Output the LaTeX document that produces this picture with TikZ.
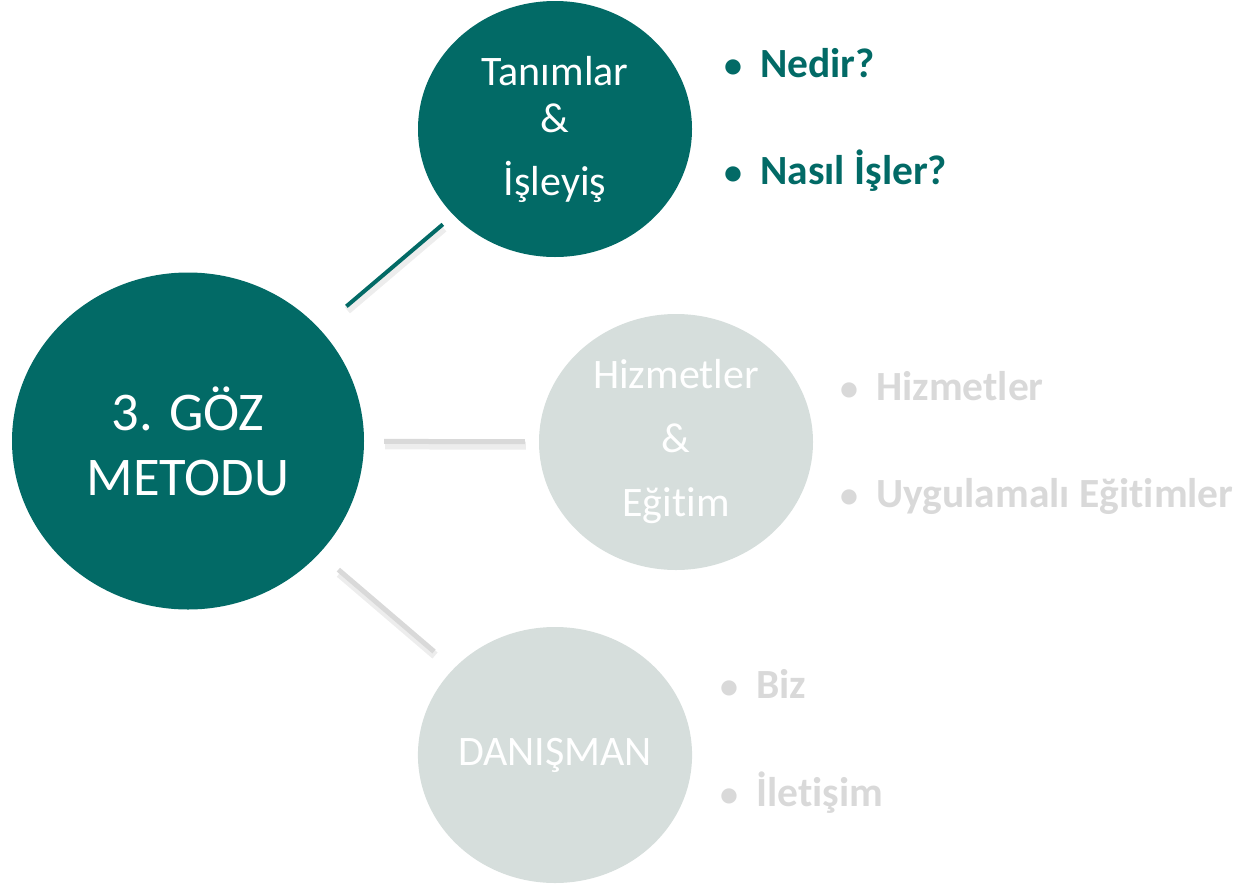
\documentclass[tikz,border=0pt]{standalone}
\usepackage{fontspec}
\setmainfont{Carlito}[Ligatures=NoCommon]
\usetikzlibrary{shapes.geometric}
\definecolor{deepteal}{RGB}{2,106,102}
\definecolor{mist}{RGB}{214,222,220}
\definecolor{faint}{RGB}{217,217,217}
\tikzset{basic/.style={ellipse,inner sep=0pt,align=center,text=white,minimum width=274pt,minimum height=256pt}}
\tikzset{hub/.style={basic,fill=deepteal,minimum width=352pt,minimum height=337pt,font=\fontsize{54.5}{65}\selectfont}}
\tikzset{active/.style={basic,fill=deepteal,font=\fontsize{42}{47}\selectfont}}
\tikzset{idle/.style={basic,fill=mist,font=\fontsize{42}{64}\selectfont}}
\tikzset{item/.style={anchor=base west,inner sep=0pt,font=\bfseries\fontsize{41.5}{48}\selectfont}}
\tikzset{link/.style={line width=4pt,preaction={draw=black,opacity=0.07,line width=8pt,transform canvas={shift={(1pt,-4pt)}}}}}
\newcommand{\bul}{\makebox[54pt][c]{\fontsize{36}{36}\selectfont •}}

\begin{document}
\begin{tikzpicture}[x=1pt,y=1pt]
    \useasboundingbox (0,0) rectangle (1248,-884);

    \node[hub] (center) at (188,-441) {3. GÖZ\\METODU};

    \node[active] (top) at (555,-129) {Tanımlar\\\&\\[16pt]İşleyiş};
        \path[draw,link,deepteal,shorten <=35pt,shorten >=14pt] (center) -- (top);
    \node[item,text=deepteal] (nedir) at (706,-77) {\bul Nedir?};
    \node[item,text=deepteal] (nasil) at (706,-184) {\bul Nasıl İşler?};

    \node[idle] (mid) at (676,-442) {Hizmetler\\\&\\Eğitim};
        \path[draw,link,faint,line width=5pt,shorten <=20pt,shorten >=14pt] (center) -- (mid);
    \node[item,text=faint] (hizmet) at (822,-400) {\bul Hizmetler};
    \node[item,text=faint] (uygula) at (822,-507) {\bul Uygulamalı Eğitimler};

    \node[idle] (low) at (555,-755) {DANIŞMAN};
        \path[draw,link,faint,line width=5pt,shorten <=25pt,shorten >=26pt] (center) -- (low);
    \node[item,text=faint] (biz) at (702,-698) {\bul Biz};
    \node[item,text=faint] (ileti) at (702,-806) {\bul İletişim};
\end{tikzpicture}
\end{document}
